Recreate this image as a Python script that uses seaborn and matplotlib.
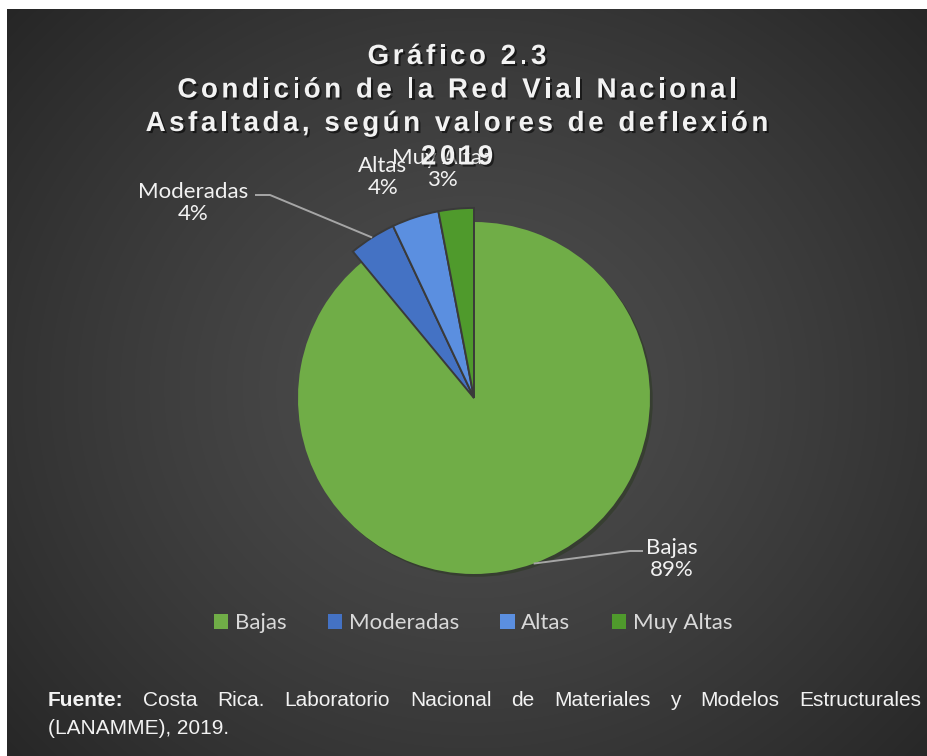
"""
Condición de la Red Vial Nacional asfaltada según valores de deflexión, 2019.
"""
import numpy as np
import matplotlib
matplotlib.use("Agg")
import matplotlib.pyplot as plt
import matplotlib.patheffects as pe
from matplotlib.font_manager import FontProperties
from matplotlib.patches import Patch
import seaborn as sns

# Data
categories = ["Bajas", "Moderadas", "Altas", "Muy Altas"]
shares = [89, 4, 4, 3]
pct_labels = ["89%", "4%", "4%", "3%"]
slice_colors = ["#70AD47", "#4472C4", "#5B8FE0", "#4F9A2C"]

title_lines = [
    "Gráfico 2.3",
    "Condición de la Red Vial Nacional",
    "Asfaltada, según valores de deflexión",
    "2019",
]
source_bold = "Fuente:"
source_line1 = "Costa Rica. Laboratorio Nacional de Materiales y Modelos Estructurales"
source_line2 = "(LANAMME), 2019."

W, H, DPI = 928, 756, 100
PX = 176.0  # pie radius in pixels
CX, CY = 474, 398  # pie centre (pixels from top-left)

sns.set_theme(style="dark")
plt.rcParams["font.family"] = ["Lato", "DejaVu Sans"]

fig = plt.figure(figsize=(W / DPI, H / DPI), dpi=DPI, facecolor="white")


def fx(x):
    return x / W


def fy(y):
    return 1 - y / H


# dark radial background panel
bg = fig.add_axes([fx(7), 0, 1 - fx(7), 1 - 9 / H], zorder=-5)
yy, xx = np.mgrid[0:747, 0:921]
r = np.hypot(xx - 465, (yy - 380) * 1.1) / 640
r = np.clip(r, 0, 1)
c0, c1 = 0.305, 0.145
img = c0 + (c1 - c0) * r ** 1.3
bg.imshow(np.dstack([img] * 3), aspect="auto", interpolation="bilinear")
bg.axis("off")

# pie
side = 3.6 * PX
ax = fig.add_axes([fx(CX - side / 2), (H - CY - side / 2) / H, side / W, side / H])
wedges, _ = ax.pie(
    shares, colors=slice_colors, startangle=90, counterclock=False, radius=1,
    wedgeprops=dict(edgecolor="#3a3a3a", linewidth=1.4),
)
for w in wedges[1:]:
    w.set_radius(1.08)
wedges[0].set_edgecolor("none")
wedges[0].set_path_effects([pe.SimplePatchShadow(offset=(2, -2), alpha=0.4), pe.Normal()])
ax.set_xlim(-1.8, 1.8)
ax.set_ylim(-1.8, 1.8)
ax.set_aspect("equal")
ax.axis("off")


def data_xy(px, py):
    return (px - CX) / PX, (CY - py) / PX


def bisector(i, rad):
    total = sum(shares)
    start = 90 - 360 * sum(shares[:i]) / total
    ang = np.deg2rad(start - 180 * shares[i] / total)
    return rad * np.cos(ang), rad * np.sin(ang)


label_pos = [(672, 559), (193, 203), (383, 177), (442, 169)]
leaders = [[(630, 551), (643, 551)], [(270, 195), (255, 195)], None, None]
lab_font = dict(fontsize=16, color="#f2f2f2", ha="center", va="center",
                linespacing=1.1, family=["Lato", "DejaVu Sans"])
for i, cat in enumerate(categories):
    tx, ty = data_xy(*label_pos[i])
    ax.text(tx, ty, f"{cat}\n{pct_labels[i]}", zorder=5, **lab_font)
    if leaders[i]:
        rad = 1.0 if i == 0 else 1.08
        pts = [bisector(i, rad)] + [data_xy(*p) for p in leaders[i]]
        xs, ys = zip(*pts)
        ax.plot(xs, ys, color="#a6a6a6", lw=1.4, zorder=4, solid_capstyle="butt")

# legend
handles = [Patch(facecolor=c, edgecolor="none") for c in slice_colors]
fig.legend(handles, categories, loc="center", bbox_to_anchor=(fx(473), fy(623)),
           ncol=4, frameon=False, labelcolor="#d9d9d9",
           handlelength=0.65, handleheight=0.65, handletextpad=0.3,
           columnspacing=1.85, prop=dict(family=["Lato", "DejaVu Sans"], size=16))

renderer = fig.canvas.get_renderer()


def advance(ch, fp):
    w1 = renderer.get_text_width_height_descent("H" + ch + "H", fp, ismath=False)[0]
    w0 = renderer.get_text_width_height_descent("HH", fp, ismath=False)[0]
    return w1 - w0


# title with letter spacing
title_fp = FontProperties(family="Liberation Sans", weight="bold", size=20)
tracking = 3.5
shadow = [pe.SimplePatchShadow(offset=(1.5, -1.5), shadow_rgbFace="black", alpha=0.55),
          pe.Normal()]
for k, line in enumerate(title_lines):
    adv = [advance(ch, title_fp) for ch in line]
    total = sum(adv) + tracking * (len(line) - 1)
    x = 457 - total / 2
    y = 57 + 33.5 * k
    for ch, a in zip(line, adv):
        fig.text(fx(x), fy(y), ch, fontproperties=title_fp, color="#f2f2f2",
                 ha="left", va="center", path_effects=shadow, zorder=10)
        x += a + tracking

# justified source note
src_fp = FontProperties(family="Liberation Sans", size=15)
src_bold = FontProperties(family="Liberation Sans", size=15, weight="bold")
words = [(source_bold, src_bold)] + [(w, src_fp) for w in source_line1.split()]
widths = [renderer.get_text_width_height_descent(w, f, ismath=False)[0] for w, f in words]
x0, x1 = 48, 921
gap = (x1 - x0 - sum(widths)) / (len(words) - 1)
x = x0
for (w, f), wd in zip(words, widths):
    fig.text(fx(x), fy(700), w, fontproperties=f, color="#f2f2f2", ha="left", va="center")
    x += wd + gap
fig.text(fx(x0), fy(728), source_line2, fontproperties=src_fp, color="#f2f2f2",
         ha="left", va="center")

fig.savefig("out.png", dpi=DPI, facecolor="white")
